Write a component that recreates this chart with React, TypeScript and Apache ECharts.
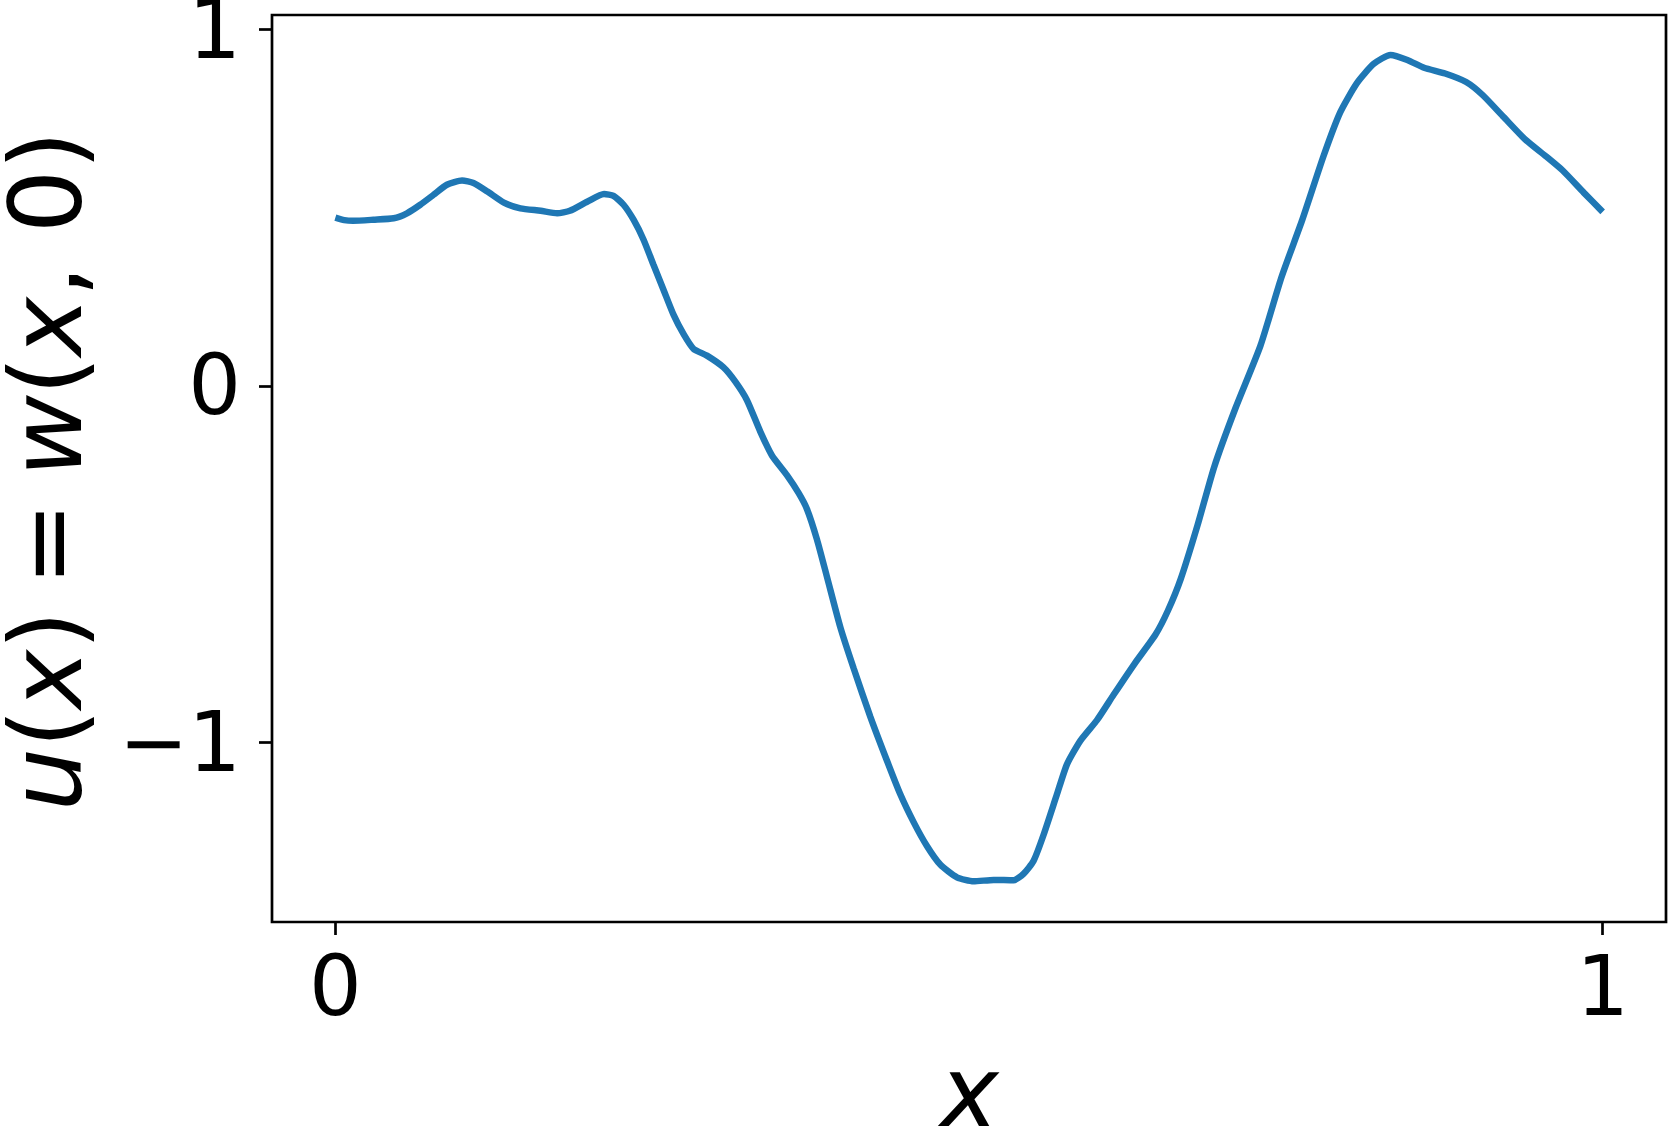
import React, { useEffect, useRef } from "react";
import * as echarts from "echarts";

// x positions and u(x) = w(x, 0) values
const X_VALUES = [
  0.0, 0.007, 0.014, 0.03, 0.046, 0.0565, 0.067, 0.0775, 0.088, 0.1, 0.109, 0.12,
  0.133, 0.146, 0.162, 0.175, 0.185, 0.199, 0.212, 0.2195, 0.2274, 0.2353, 0.2432,
  0.2511, 0.259, 0.2669, 0.2748, 0.2826, 0.2932, 0.3063, 0.3156, 0.3248, 0.3353,
  0.3445, 0.3563, 0.3655, 0.3721, 0.38, 0.3879, 0.3985, 0.4089, 0.4221, 0.4353,
  0.4458, 0.4563, 0.4668, 0.4773, 0.4905, 0.5036, 0.5194, 0.5352, 0.543, 0.5509,
  0.5588, 0.5694, 0.5773, 0.5878, 0.601, 0.6141, 0.6306, 0.6472, 0.6571, 0.6671,
  0.6803, 0.6935, 0.7101, 0.73, 0.7465, 0.7631, 0.7797, 0.7929, 0.8061, 0.8194,
  0.8326, 0.8459, 0.8591, 0.8757, 0.8923, 0.9055, 0.9221, 0.9386, 0.9552, 0.9685,
  0.9851, 1.0,
];
const U_VALUES = [
  0.472, 0.465, 0.463, 0.466, 0.47, 0.484, 0.508, 0.536, 0.564, 0.576, 0.569, 0.545,
  0.514, 0.498, 0.491, 0.484, 0.491, 0.517, 0.538, 0.533, 0.508, 0.466, 0.41,
  0.339, 0.269, 0.199, 0.145, 0.104, 0.085, 0.052, 0.012, -0.04, -0.128,
  -0.195, -0.25, -0.3, -0.345, -0.43, -0.535, -0.677, -0.791, -0.927, -1.051,
  -1.145, -1.223, -1.29, -1.342, -1.378, -1.389, -1.385, -1.386, -1.368, -1.332,
  -1.259, -1.145, -1.061, -0.995, -0.937, -0.866, -0.779, -0.697, -0.629, -0.541,
  -0.391, -0.227, -0.064, 0.113, 0.304, 0.467, 0.644, 0.767, 0.849, 0.903,
  0.928, 0.914, 0.892, 0.876, 0.852, 0.815, 0.753, 0.692, 0.644, 0.604,
  0.542, 0.488,
];
const X_TICKS = [0, 1];
const Y_TICKS = [-1, 0, 1];
const X_RANGE = [-0.05, 1.05];
const Y_RANGE = [-1.503, 1.04];

const FONT = "DejaVu Sans";
const TICK_FONT = 83;
const TITLE_FONT = 100;

const fmt = (v: number) => (v < 0 ? "\u2212" + Math.abs(v) : String(v));

export default function App() {
  const ref = useRef<HTMLDivElement>(null);

  useEffect(() => {
    if (!ref.current) return;
    const chart = echarts.init(ref.current, undefined, { renderer: "svg" });
    const gridLeft = 272;
    const gridTop = 15;
    const gridRight = 2;
    const gridBottom = 204;
    const W = 1668;
    const rich = {
      i: { fontFamily: FONT, fontSize: TITLE_FONT, fontStyle: "italic", fill: "#000", color: "#000" },
      n: { fontFamily: FONT, fontSize: TITLE_FONT, fill: "#000", color: "#000" },
    };
    const axisTick = {
      show: true,
      inside: false,
      length: 13,
      lineStyle: { color: "#000", width: 2.7 },
    };
    const sp = "\u2005";
    chart.setOption({
      animation: false,
      backgroundColor: "#fff",
      grid: {
        left: gridLeft,
        top: gridTop,
        right: gridRight,
        bottom: gridBottom,
        containLabel: false,
        outerBoundsMode: "none",
        show: true,
        borderColor: "#000",
        borderWidth: 2.7,
        backgroundColor: "transparent",
      },
      xAxis: {
        type: "value",
        min: X_RANGE[0],
        max: X_RANGE[1],
        axisLine: { show: false, onZero: false },
        splitLine: { show: false },
        axisTick: { ...axisTick, customValues: X_TICKS },
        axisLabel: {
          customValues: X_TICKS,
          formatter: fmt,
          fontFamily: FONT,
          fontSize: TICK_FONT,
          lineHeight: TICK_FONT,
          color: "#000",
          margin: 23,
          showMinLabel: true,
          showMaxLabel: true,
        },
      },
      yAxis: {
        type: "value",
        min: Y_RANGE[0],
        max: Y_RANGE[1],
        axisLine: { show: false, onZero: false },
        splitLine: { show: false },
        axisTick: { ...axisTick, customValues: Y_TICKS },
        axisLabel: {
          customValues: Y_TICKS,
          formatter: fmt,
          fontFamily: FONT,
          fontSize: TICK_FONT,
          lineHeight: TICK_FONT,
          color: "#000",
          margin: 31,
          showMinLabel: true,
          showMaxLabel: true,
        },
      },
      graphic: [
        {
          type: "text",
          x: 46,
          y: 471,
          rotation: Math.PI / 2,
          silent: true,
          style: {
            text: "{i|u}{n|(}{i|x}{n|)" + sp + "=" + sp + "}{i|w}{n|(}{i|x}{n|, 0)}",
            rich,
            fontFamily: FONT,
            fontSize: TITLE_FONT,
            fill: "#000",
            align: "center",
            verticalAlign: "middle",
            textAlign: "center",
            textVerticalAlign: "middle",
          },
        },
        {
          type: "text",
          x: gridLeft + (W - gridLeft - gridRight) / 2,
          y: 1092,
          silent: true,
          style: {
            text: "{i|x}",
            rich,
            fontFamily: FONT,
            fontSize: TITLE_FONT,
            fill: "#000",
            align: "center",
            verticalAlign: "middle",
            textAlign: "center",
            textVerticalAlign: "middle",
          },
        },
      ],
      series: [
        {
          type: "line",
          data: X_VALUES.map((x, i) => [x, U_VALUES[i]]),
          showSymbol: false,
          smooth: 0.2,
          clip: false,
          lineStyle: { color: "#1f77b4", width: 6.5, cap: "butt" },
          itemStyle: { color: "#1f77b4" },
        },
      ],
    });
    return () => chart.dispose();
  }, []);

  return (
    <div
      ref={ref}
      style={{ position: "absolute", left: 0, top: 0, width: 1668, height: 1126, background: "#fff" }}
    />
  );
}
